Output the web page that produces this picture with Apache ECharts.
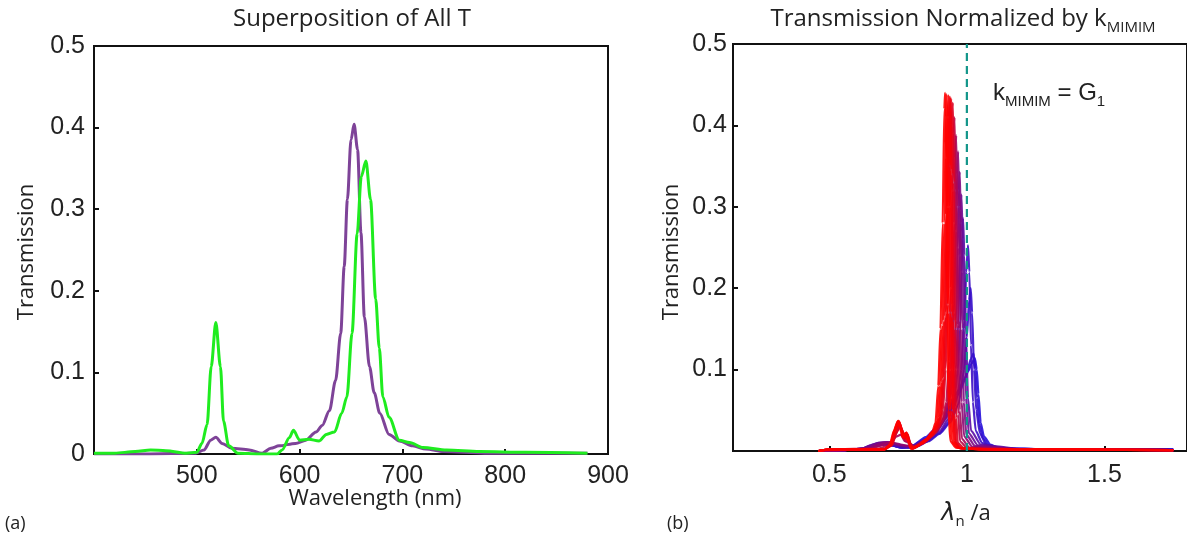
<!DOCTYPE html>
<html>
<head>
<meta charset="utf-8">
<script src="https://cdn.jsdelivr.net/npm/echarts@6/dist/echarts.min.js"></script>
<style>
html,body{margin:0;padding:0;background:#fff;}
#chart{width:1187px;height:542px;}
</style>
</head>
<body>
<div id="chart"></div>
<script>
// ---------- Panel (a): Superposition of All T ----------
const wlTicks = [500, 600, 700, 800, 900];
const greenWl = [400,420,440,455,470,490,500,505,510,514,518.5,523,526,531,540,560,578,583,590,594,600,609,619,626,634,641,646,651,656,660,664.5,669,674,677.5,681,687,697,707,720,743,775,820,880];
const greenT  = [0.001,0.001,0.003,0.005,0.004,0.001,0.002,0.013,0.036,0.107,0.161,0.107,0.04,0.01,0.001,0,0,0.005,0.02,0.029,0.017,0.018,0.016,0.024,0.027,0.05,0.07,0.148,0.27,0.34,0.359,0.312,0.19,0.13,0.07,0.045,0.017,0.014,0.008,0.005,0.003,0.002,0.001];
const purpleWl = [400,450,499,507,513.6,518.5,524.6,534,551,563.6,572,580,596,606,616,622,629,635,640,643.4,646.5,650,653,656.4,659.7,663,668,672.6,678,687,697,710,723,740,780,880];
const purpleT  = [0,0,0.001,0.005,0.017,0.0205,0.013,0.007,0.005,0.001,0.007,0.01,0.013,0.017,0.027,0.035,0.053,0.09,0.148,0.23,0.312,0.385,0.404,0.373,0.271,0.168,0.107,0.075,0.05,0.024,0.016,0.01,0.006,0.003,0.001,0.001];

// ---------- Panel (b): Transmission normalized by k_MIMIM (lambda_n / a) ----------
const normTicks = [0.5, 1, 1.5];
const kLine = 1;
// red family
const curveR1 = [[0.46,0],[0.50,0.002],[0.70,0.002],[0.72,0.008],[0.735,0.025],[0.748,0.036],[0.756,0.03],[0.766,0.017],[0.776,0.022],[0.786,0.012],[0.796,0.003],[0.82,0.006],[0.85,0.014],[0.875,0.024],[0.886,0.035],[0.896,0.08],[0.904,0.15],[0.912,0.28],[0.918,0.42],[0.921,0.44],[0.925,0.36],[0.929,0.18],[0.933,0.05],[0.94,0.012],[0.96,0.004],[1.05,0.002],[1.75,0.001]];
const curveR2 = [[0.46,0],[0.50,0.002],[0.70,0.002],[0.722,0.008],[0.737,0.026],[0.75,0.037],[0.758,0.03],[0.768,0.017],[0.778,0.022],[0.788,0.011],[0.798,0.003],[0.825,0.007],[0.855,0.015],[0.88,0.025],[0.892,0.037],[0.902,0.08],[0.91,0.155],[0.918,0.28],[0.924,0.41],[0.927,0.438],[0.931,0.35],[0.935,0.17],[0.939,0.05],[0.946,0.012],[0.965,0.004],[1.05,0.002],[1.75,0.001]];
const curveR3 = [[0.46,0],[0.50,0.002],[0.70,0.002],[0.724,0.008],[0.738,0.026],[0.752,0.037],[0.76,0.029],[0.77,0.016],[0.78,0.023],[0.79,0.011],[0.80,0.003],[0.83,0.008],[0.86,0.016],[0.885,0.026],[0.898,0.04],[0.908,0.085],[0.916,0.16],[0.924,0.29],[0.93,0.41],[0.934,0.437],[0.938,0.35],[0.942,0.17],[0.946,0.05],[0.952,0.012],[0.97,0.004],[1.05,0.002],[1.75,0.001]];
const curveR4 = [[0.46,0],[0.50,0.002],[0.70,0.002],[0.725,0.007],[0.74,0.025],[0.754,0.036],[0.762,0.028],[0.772,0.016],[0.782,0.022],[0.792,0.01],[0.802,0.003],[0.835,0.009],[0.865,0.017],[0.89,0.028],[0.903,0.042],[0.913,0.088],[0.921,0.165],[0.928,0.3],[0.934,0.41],[0.939,0.435],[0.943,0.345],[0.947,0.165],[0.951,0.048],[0.957,0.011],[0.975,0.003],[1.1,0.002],[1.75,0.001]];
const curveR5 = [[0.46,0],[0.50,0.002],[0.70,0.002],[0.726,0.007],[0.742,0.024],[0.755,0.035],[0.763,0.027],[0.773,0.015],[0.783,0.021],[0.793,0.01],[0.803,0.003],[0.84,0.01],[0.87,0.018],[0.895,0.03],[0.907,0.045],[0.917,0.09],[0.925,0.17],[0.932,0.3],[0.938,0.41],[0.943,0.433],[0.947,0.34],[0.951,0.16],[0.955,0.045],[0.961,0.01],[0.98,0.003],[1.1,0.002],[1.75,0.001]];
const curveR6 = [[0.46,0],[0.50,0.002],[0.70,0.002],[0.728,0.007],[0.744,0.022],[0.757,0.033],[0.765,0.026],[0.775,0.015],[0.785,0.02],[0.795,0.009],[0.805,0.003],[0.84,0.009],[0.875,0.019],[0.9,0.03],[0.913,0.05],[0.923,0.1],[0.931,0.18],[0.938,0.3],[0.944,0.4],[0.949,0.428],[0.953,0.33],[0.957,0.15],[0.961,0.04],[0.967,0.01],[0.99,0.003],[1.1,0.002],[1.75,0.001]];
// purple transition
const curveP1 = [[0.46,0],[0.50,0.002],[0.68,0.003],[0.71,0.006],[0.73,0.012],[0.748,0.025],[0.758,0.03],[0.767,0.022],[0.777,0.012],[0.787,0.016],[0.797,0.007],[0.81,0.004],[0.85,0.012],[0.885,0.022],[0.91,0.035],[0.925,0.06],[0.935,0.11],[0.942,0.2],[0.948,0.32],[0.952,0.39],[0.955,0.41],[0.959,0.32],[0.963,0.15],[0.968,0.045],[0.975,0.012],[1.0,0.004],[1.2,0.002],[1.75,0.001]];
const curveP2 = [[0.46,0],[0.55,0.001],[0.65,0.003],[0.69,0.007],[0.72,0.01],[0.745,0.018],[0.76,0.02],[0.775,0.012],[0.79,0.01],[0.81,0.005],[0.85,0.012],[0.89,0.024],[0.915,0.038],[0.93,0.06],[0.94,0.1],[0.948,0.18],[0.954,0.28],[0.958,0.36],[0.961,0.388],[0.965,0.3],[0.969,0.15],[0.974,0.05],[0.982,0.015],[1.01,0.004],[1.2,0.002],[1.75,0.001]];
const curveP3 = [[0.46,0],[0.55,0.001],[0.64,0.003],[0.67,0.007],[0.70,0.01],[0.73,0.01],[0.76,0.008],[0.79,0.006],[0.81,0.006],[0.85,0.014],[0.89,0.025],[0.92,0.04],[0.935,0.062],[0.945,0.1],[0.953,0.17],[0.96,0.27],[0.965,0.34],[0.968,0.368],[0.972,0.3],[0.976,0.16],[0.981,0.06],[0.99,0.018],[1.02,0.005],[1.2,0.002],[1.75,0.001]];
const curveP4 = [[0.46,0],[0.55,0.001],[0.63,0.003],[0.66,0.007],[0.69,0.01],[0.72,0.011],[0.75,0.008],[0.78,0.006],[0.81,0.007],[0.85,0.014],[0.89,0.026],[0.925,0.042],[0.94,0.065],[0.952,0.1],[0.96,0.16],[0.967,0.25],[0.971,0.32],[0.974,0.343],[0.978,0.28],[0.983,0.15],[0.989,0.06],[0.998,0.02],[1.03,0.006],[1.2,0.002],[1.75,0.001]];
const curveP5 = [[0.46,0],[0.55,0.001],[0.62,0.003],[0.65,0.007],[0.68,0.01],[0.71,0.011],[0.74,0.008],[0.77,0.006],[0.81,0.006],[0.85,0.013],[0.89,0.024],[0.93,0.042],[0.948,0.065],[0.96,0.1],[0.968,0.155],[0.974,0.24],[0.978,0.295],[0.98,0.315],[0.985,0.26],[0.99,0.15],[0.997,0.065],[1.007,0.022],[1.04,0.007],[1.2,0.002],[1.75,0.001]];
const curveP6 = [[0.46,0],[0.55,0.001],[0.62,0.003],[0.65,0.007],[0.68,0.01],[0.71,0.01],[0.74,0.007],[0.78,0.005],[0.81,0.005],[0.85,0.012],[0.9,0.024],[0.935,0.04],[0.955,0.065],[0.967,0.1],[0.975,0.15],[0.981,0.22],[0.984,0.27],[0.986,0.286],[0.991,0.24],[0.997,0.14],[1.004,0.065],[1.015,0.025],[1.05,0.008],[1.2,0.002],[1.75,0.001]];
// blue family
const curveB1 = [[0.46,0],[0.55,0.001],[0.62,0.003],[0.65,0.006],[0.68,0.009],[0.71,0.009],[0.74,0.006],[0.78,0.004],[0.81,0.005],[0.85,0.011],[0.9,0.022],[0.94,0.038],[0.965,0.065],[0.98,0.1],[0.99,0.16],[0.998,0.22],[1.004,0.253],[1.009,0.22],[1.015,0.13],[1.022,0.06],[1.032,0.025],[1.055,0.01],[1.095,0.003],[1.3,0.002],[1.75,0.001]];
const curveB2 = [[0.46,0],[0.55,0.001],[0.63,0.003],[0.66,0.006],[0.69,0.008],[0.72,0.008],[0.75,0.005],[0.79,0.004],[0.82,0.006],[0.86,0.012],[0.9,0.021],[0.94,0.035],[0.97,0.058],[0.99,0.1],[1.0,0.14],[1.008,0.185],[1.014,0.2],[1.019,0.17],[1.026,0.1],[1.034,0.05],[1.047,0.022],[1.07,0.008],[1.11,0.003],[1.3,0.002],[1.75,0.002]];
const curveB3 = [[0.46,0],[0.55,0.001],[0.64,0.003],[0.67,0.006],[0.70,0.008],[0.73,0.007],[0.76,0.004],[0.80,0.006],[0.85,0.015],[0.9,0.03],[0.94,0.05],[0.97,0.07],[0.99,0.085],[1.003,0.1],[1.014,0.113],[1.024,0.12],[1.031,0.1],[1.037,0.065],[1.045,0.033],[1.058,0.016],[1.08,0.007],[1.12,0.003],[1.3,0.002],[1.75,0.002]];
const curveB4 = [[0.46,0],[0.55,0.001],[0.64,0.003],[0.67,0.006],[0.70,0.008],[0.73,0.007],[0.76,0.004],[0.80,0.006],[0.85,0.017],[0.9,0.032],[0.94,0.055],[0.97,0.075],[0.99,0.088],[1.005,0.098],[1.018,0.108],[1.029,0.114],[1.036,0.1],[1.042,0.07],[1.05,0.035],[1.062,0.018],[1.085,0.008],[1.12,0.003],[1.3,0.002],[1.75,0.002]];
// drawing order: blue first, red last
const normCurves = [curveB4, curveB3, curveB2, curveB1, curveP6, curveP5, curveP4, curveP3, curveP2, curveP1, curveR6, curveR5, curveR4, curveR3, curveR2, curveR1];
// colour position of each curve on the blue(0) -> red(1) scale
const normHue = [0, 0.03, 0.07, 0.1, 0.24, 0.32, 0.4, 0.48, 0.58, 0.68, 0.84, 0.9, 0.94, 0.97, 1, 1];

// ---------- styling helpers ----------
function famColor(t) {
  const blue = [38, 16, 218], red = [255, 0, 0];
  const c = blue.map((b, k) => Math.round(b + (red[k] - b) * t));
  return 'rgb(' + c.join(',') + ')';
}
const axisFont = { fontFamily: 'Liberation Sans', fontSize: 25, color: '#222' };
const titleFont = '24px "Open Sans"';
const nameFont = '22px "Open Sans"';

const chart = echarts.init(document.getElementById('chart'), null, { renderer: 'canvas' });

const series = [
  { type: 'line', xAxisIndex: 0, yAxisIndex: 0, data: purpleWl.map((w, i) => [w, purpleT[i]]),
    showSymbol: false, smooth: 0.3, smoothMonotone: 'x', lineStyle: { color: '#7e4398', width: 3 }, z: 3 },
  { type: 'line', xAxisIndex: 0, yAxisIndex: 0, data: greenWl.map((w, i) => [w, greenT[i]]),
    showSymbol: false, smooth: 0.3, smoothMonotone: 'x', lineStyle: { color: '#1fec1f', width: 3 }, z: 4 }
];
normCurves.forEach((c, i) => {
  series.push({ type: 'line', xAxisIndex: 1, yAxisIndex: 1, data: c, showSymbol: false,
    smooth: 0.2, smoothMonotone: 'x', silent: true,
    lineStyle: { color: famColor(normHue[i]), width: 2.2, opacity: 0.9 }, z: 3 });
});
series.push({ type: 'line', xAxisIndex: 1, yAxisIndex: 1, data: [[kLine, 0], [kLine, 0.5]], showSymbol: false,
  lineStyle: { color: '#13968a', width: 2.2, type: [8, 5] }, z: 6 });

chart.setOption({
  animation: false,
  backgroundColor: '#fff',
  grid: [
    { left: 94, right: 579, top: 46, bottom: 88, show: true, borderColor: '#111', borderWidth: 2, backgroundColor: 'transparent' },
    { left: 733, right: -4, top: 44, bottom: 91, show: true, borderColor: '#111', borderWidth: 2, backgroundColor: 'transparent' }
  ],
  xAxis: [
    { type: 'value', gridIndex: 0, min: 400, max: 900, interval: 100,
      axisLine: { show: true, lineStyle: { color: '#111', width: 2 } },
      axisTick: { show: true, inside: true, length: 5, lineStyle: { color: '#111', width: 2 } },
      axisLabel: { showMinLabel: false, margin: 10, ...axisFont }, splitLine: { show: false } },
    { type: 'value', gridIndex: 1, min: 0.15, max: 1.8,
      axisLine: { show: true, lineStyle: { color: '#111', width: 2 } },
      axisTick: { show: true, inside: true, length: 5, customValues: normTicks, lineStyle: { color: '#111', width: 2 } },
      axisLabel: { customValues: normTicks, margin: 12, formatter: v => String(v), ...axisFont }, splitLine: { show: false } }
  ],
  yAxis: [
    { type: 'value', gridIndex: 0, min: 0, max: 0.5, interval: 0.1,
      axisLine: { show: true, lineStyle: { color: '#111', width: 2 } },
      axisTick: { show: true, inside: true, length: 5, lineStyle: { color: '#111', width: 2 } },
      axisLabel: { margin: 9, formatter: v => v === 0 ? '0' : v.toFixed(1), ...axisFont }, splitLine: { show: false } },
    { type: 'value', gridIndex: 1, min: 0, max: 0.5, interval: 0.1,
      axisLine: { show: true, lineStyle: { color: '#111', width: 2 } },
      axisTick: { show: true, inside: true, length: 5, lineStyle: { color: '#111', width: 2 } },
      axisLabel: { showMinLabel: false, margin: 6, formatter: v => v.toFixed(1), ...axisFont }, splitLine: { show: false } }
  ],
  series: series,
  graphic: [
    { type: 'text', x: 352, y: 19, style: { text: 'Superposition of All T', font: titleFont, fill: '#222', align: 'center', verticalAlign: 'middle' } },
    { type: 'text', x: 963, y: 19, style: {
        text: '{m|Transmission Normalized by k}{s|MIMIM}',
        rich: { m: { font: titleFont, fill: '#222', lineHeight: 32, verticalAlign: 'middle' },
                s: { font: '15px "Open Sans"', fill: '#222', lineHeight: 32, verticalAlign: 'bottom', padding: [11, 0, 0, 0] } },
        align: 'center', verticalAlign: 'middle' } },
    { type: 'text', x: 27, y: 252, rotation: Math.PI / 2, style: { text: 'Transmission', font: nameFont, fill: '#222', align: 'center', verticalAlign: 'middle' } },
    { type: 'text', x: 672, y: 252, rotation: Math.PI / 2, style: { text: 'Transmission', font: nameFont, fill: '#222', align: 'center', verticalAlign: 'middle' } },
    { type: 'text', x: 375, y: 499, style: { text: 'Wavelength (nm)', font: nameFont, fill: '#222', align: 'center', verticalAlign: 'middle' } },
    { type: 'text', x: 966, y: 514, style: {
        text: '{l|λ}{s|n}{m| /a}',
        rich: { l: { font: 'italic 24px "DejaVu Sans"', fill: '#222', lineHeight: 30, verticalAlign: 'middle' },
                s: { font: '15px "Open Sans"', fill: '#222', lineHeight: 30, verticalAlign: 'bottom', padding: [11, 0, 0, 0] },
                m: { font: nameFont, fill: '#222', lineHeight: 30, verticalAlign: 'middle' } },
        align: 'center', verticalAlign: 'middle' } },
    { type: 'text', x: 5, y: 524, style: { text: '(a)', font: '18px "Open Sans"', fill: '#222', align: 'left', verticalAlign: 'middle' } },
    { type: 'text', x: 667, y: 524, style: { text: '(b)', font: '18px "Open Sans"', fill: '#222', align: 'left', verticalAlign: 'middle' } },
    { type: 'text', x: 993, y: 93, style: {
        text: '{m|k}{s|MIMIM}{m| = G}{s|1}',
        rich: { m: { font: '24px "Liberation Sans"', fill: '#222', lineHeight: 32, verticalAlign: 'middle' },
                s: { font: '15px "Liberation Sans"', fill: '#222', lineHeight: 32, verticalAlign: 'bottom', padding: [10, 0, 0, 0] } },
        align: 'left', verticalAlign: 'middle' } }
  ]
});
</script>
</body>
</html>
